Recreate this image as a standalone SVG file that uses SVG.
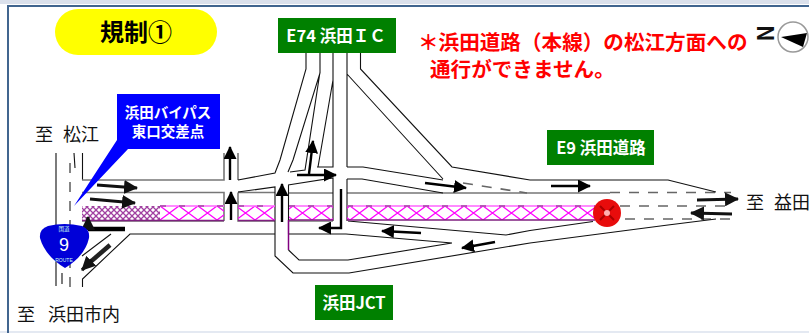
<svg xmlns="http://www.w3.org/2000/svg" width="809" height="333" viewBox="0 0 809 333">
<style>
text{font-family:"Noto Sans CJK JP","Liberation Sans",sans-serif}
.r{fill:none;stroke:#111;stroke-width:1.1}
.g{fill:none;stroke:#777;stroke-width:1.6}
.d{fill:none;stroke:#666;stroke-width:1.6;stroke-dasharray:10 9}
.k{fill:none;stroke:#000;stroke-width:2.4;marker-end:url(#a)}
.b{fill:none;stroke:#111;stroke-width:3.2;marker-end:url(#c)}
.w{font-weight:700;fill:#fff;font-size:16.500px;text-anchor:middle}
.c{font-size:14.500px}
.l{font-size:18px;fill:#111;word-spacing:6px}
.e{font-weight:700;fill:#f00;font-size:20.600px}
</style>
<defs>
<marker id="a" markerUnits="userSpaceOnUse" markerWidth="13" markerHeight="13" refX="12" refY="6.500" orient="auto"><path d="M0 0L13 6.500L0 13z" fill="#000"/></marker>
<marker id="c" markerUnits="userSpaceOnUse" markerWidth="14" markerHeight="14" refX="13" refY="7" orient="auto"><path d="M0 0L14 7L0 14z" fill="#111"/></marker>
<pattern id="x" width="19" height="14" patternUnits="userSpaceOnUse" x="160" y="206"><path d="M0 0L19 14M19 0L0 14" stroke="#f0f" stroke-width="1.3"/></pattern>
<pattern id="f" width="6" height="6" patternUnits="userSpaceOnUse"><path d="M0 0L6 6M6 0L0 6" stroke="#a040a0" stroke-width="1.3"/></pattern>
</defs>
<rect width="809" height="333" fill="#fff"/>
<rect width="809" height="4" fill="#dbe1ec"/>
<rect y="331" width="809" height="2" fill="#e4e9f2"/>
<path d="M809 6H8V333" fill="none" stroke="#41658f" stroke-width="2"/>
<g id="connectors">
<path class="r" d="M56 153V286M82.500 153V180M74 153L75 168M82.500 287V279L130 234H275M62 273V284M82 256L111 234"/>
<path class="d" d="M70 163V287"/>
<path class="g" d="M82 180H224V153M82 192.500H224V221M82 221H224M238 153V180M238 192.500V221H275M238 192.500H275M289 193H333M289 221H333M347 193H610"/>
<path class="d" d="M610 192.500H731M620 206H731M625 219H731M463 183L527 193"/>
<path class="r" d="M238 180L275 173L280 160L306 69V53M238 192L275 187V256L293 273H349L530 243L668 225L716 219M288.500 185V234H346L452 243M288.500 250L299 260H348L452 243M288 185L333 178V221M347 179V221M347 179H362L443 193M347 167H363L443 180M288 172L293 160L320 73V53M290 172L305 170L320 72M317 167H333V53M318 167L333 80M347 53V167M347 74L443 179M360.500 53V69L452 167L530 180H668L716 192M348 221L506 235L530 230.500L593 221.500"/>
<rect x="82" y="206" width="78" height="14.500" fill="url(#f)"/>
<rect x="160" y="206" width="64" height="14" fill="url(#x)"/>
<rect x="238" y="206" width="37" height="14" fill="url(#x)"/>
<rect x="289" y="206" width="44" height="14" fill="url(#x)"/>
<rect x="347" y="206" width="248" height="14" fill="url(#x)"/>
<path d="M160 206H224M238 206H275M289 206H333M347 206H595" stroke="#ff66ff" stroke-width="1.5"/>
<path d="M160 206H224M238 206H275M289 206H333M347 206H595" stroke="#a04aa0" stroke-width="1.5" stroke-dasharray="6 13"/>
<path d="M82 220.500H224M238 220.500H275M289 220H333M347 220H595" stroke="#802080" stroke-width="1.6"/>
<path d="M288.500 220V250" stroke="#800080" stroke-width="1.5"/>
<path class="b" d="M97 185L137 188"/>
<path class="b" d="M90 199L135 203"/>
<path d="M125 229H88" fill="none" stroke="#000" stroke-width="4.500"/>
<path class="b" d="M88 229V217"/>
<path d="M110 245L88 264" fill="none" stroke="#222" stroke-width="4.500"/>
<path class="b" d="M92 260L82 270"/>
<path class="k" d="M230 180V147"/>
<path class="k" d="M231 220V192"/>
<path class="k" d="M282 222V184"/>
<path class="k" d="M309 174L313 141"/>
<path class="k" d="M297 175H336"/>
<path class="k" d="M341 189V228H319"/>
<path class="k" d="M421 233L382 231"/>
<path class="k" d="M495 242L462 248"/>
<path class="k" d="M425 183L466 188"/>
<path class="k" d="M551 186H590"/>
<path class="b" d="M697 200L738 199"/>
<path class="b" d="M732 214L691 213"/>
</g>
<g id="title"><rect x="55" y="9" width="162" height="46" rx="23" fill="#ff0"/><text x="136" y="41" font-size="24" font-weight="700" text-anchor="middle" fill="#000">規制①</text></g>
<g id="callout"><path d="M117 94H220V149H128L74 206L117 140z" fill="#00f"/><text class="w c" x="168" y="118">浜田バイパス</text><text class="w c" x="168" y="137">東口交差点</text></g>
<g id="e74"><rect x="278" y="18" width="118" height="35" fill="#008000"/><text class="w" x="336" y="41.500">E74 浜田ＩＣ</text></g>
<g id="e9"><rect x="547" y="130" width="107" height="35" fill="#008000"/><text class="w" x="601" y="153.500">E9 浜田道路</text></g>
<g id="jct"><rect x="315" y="285" width="78" height="35" fill="#008000"/><text class="w" x="354" y="308.500">浜田JCT</text></g>
<g id="notice"><text class="e" x="418" y="50">＊浜田道路（本線）の松江方面への</text><text class="e" x="430" y="77">通行ができません。</text></g>
<g id="north"><circle cx="793" cy="37" r="15" fill="#fff" stroke="#999" stroke-width="1.500"/><path d="M781 37L807 33L803 47z" fill="#000"/><text x="0" y="0" transform="translate(757 25) rotate(90)" font-size="22" font-weight="700" fill="#111">N</text></g>
<g id="labels"><text class="l" x="35" y="141">至 松江</text><text class="l" x="17" y="321" style="word-spacing:9px">至 浜田市内</text><text class="l" x="746" y="209">至 益田</text></g>
<g id="route9"><path d="M48 226Q64 222 82 226Q90 229 89 238Q85 256 65 268Q45 256 40 238Q39 229 48 226z" fill="#0000d8"/><text x="64" y="231" font-size="5.500" fill="#cfe" text-anchor="middle">国道</text><text x="64" y="251" font-size="18" fill="#fff" text-anchor="middle" font-family="Liberation Sans" style="font-family:'Liberation Sans',sans-serif">9</text><text x="64" y="262" font-size="5" fill="#cfe" text-anchor="middle" style="font-family:'Liberation Sans',sans-serif">ROUTE</text></g>
<g id="closure"><circle cx="607" cy="213" r="14" fill="#e80c0c"/><path d="M600 206L614 220M614 206L600 220" stroke="#a00" stroke-width="2"/><circle cx="607" cy="213" r="3" fill="#ffb0b0"/></g>
</svg>
